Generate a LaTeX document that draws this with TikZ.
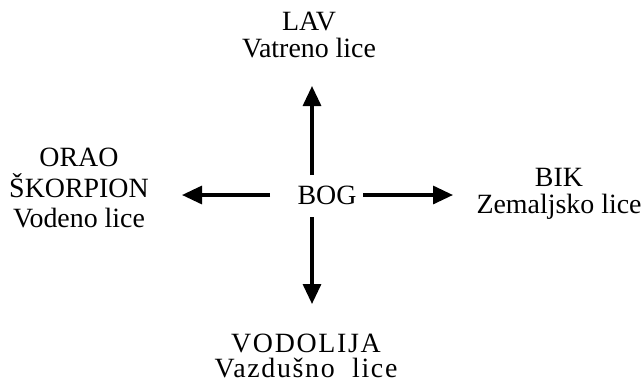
\documentclass[tikz,border=0pt]{standalone}
\usepackage{fontspec}
\setmainfont{Liberation Serif}
\usetikzlibrary{arrows.meta}

\tikzset{
  lbl/.style={inner sep=0pt, align=center, font=\fontsize{28}{28}\selectfont},
  arr/.style={line width=3.2bp, -{Triangle[length=20bp, width=18bp]}}
}

\begin{document}
\begin{tikzpicture}[x=1bp, y=-1bp]
  \useasboundingbox (0,0) rectangle (643,383);
  % labels
  \node[lbl] (bog) at (327,195) {BOG};
  \node[lbl] (lav) at (309,35) {LAV\\Vatreno lice};
  \node[lbl, font=\fontsize{28}{31}\selectfont] (orao) at (79,188) {ORAO\\ŠKORPION\\Vodeno lice};
  \node[lbl, font=\fontsize{28}{27}\selectfont] (bik) at (559,194) {BIK\\Zemaljsko lice};
  \node[lbl, font=\fontsize{28}{26}\selectfont] (vodolija) at (306,356)
    {{\addfontfeature{LetterSpace=6}VODOLIJA}\\{\addfontfeature{LetterSpace=6}Vazdušno\ \ lice}};
  % arrow ends
  \coordinate (upS) at (312,175);
  \coordinate (upE) at (312,86);
  \coordinate (dnS) at (312,217);
  \coordinate (dnE) at (312,304);
  \coordinate (ltS) at (270,195);
  \coordinate (ltE) at (182,195);
  \coordinate (rtS) at (363,195);
  \coordinate (rtE) at (453,195);
  % arrows
  \draw[arr] (upS) -- (upE);
  \draw[arr] (dnS) -- (dnE);
  \draw[arr] (ltS) -- (ltE);
  \draw[arr] (rtS) -- (rtE);
\end{tikzpicture}
\end{document}
